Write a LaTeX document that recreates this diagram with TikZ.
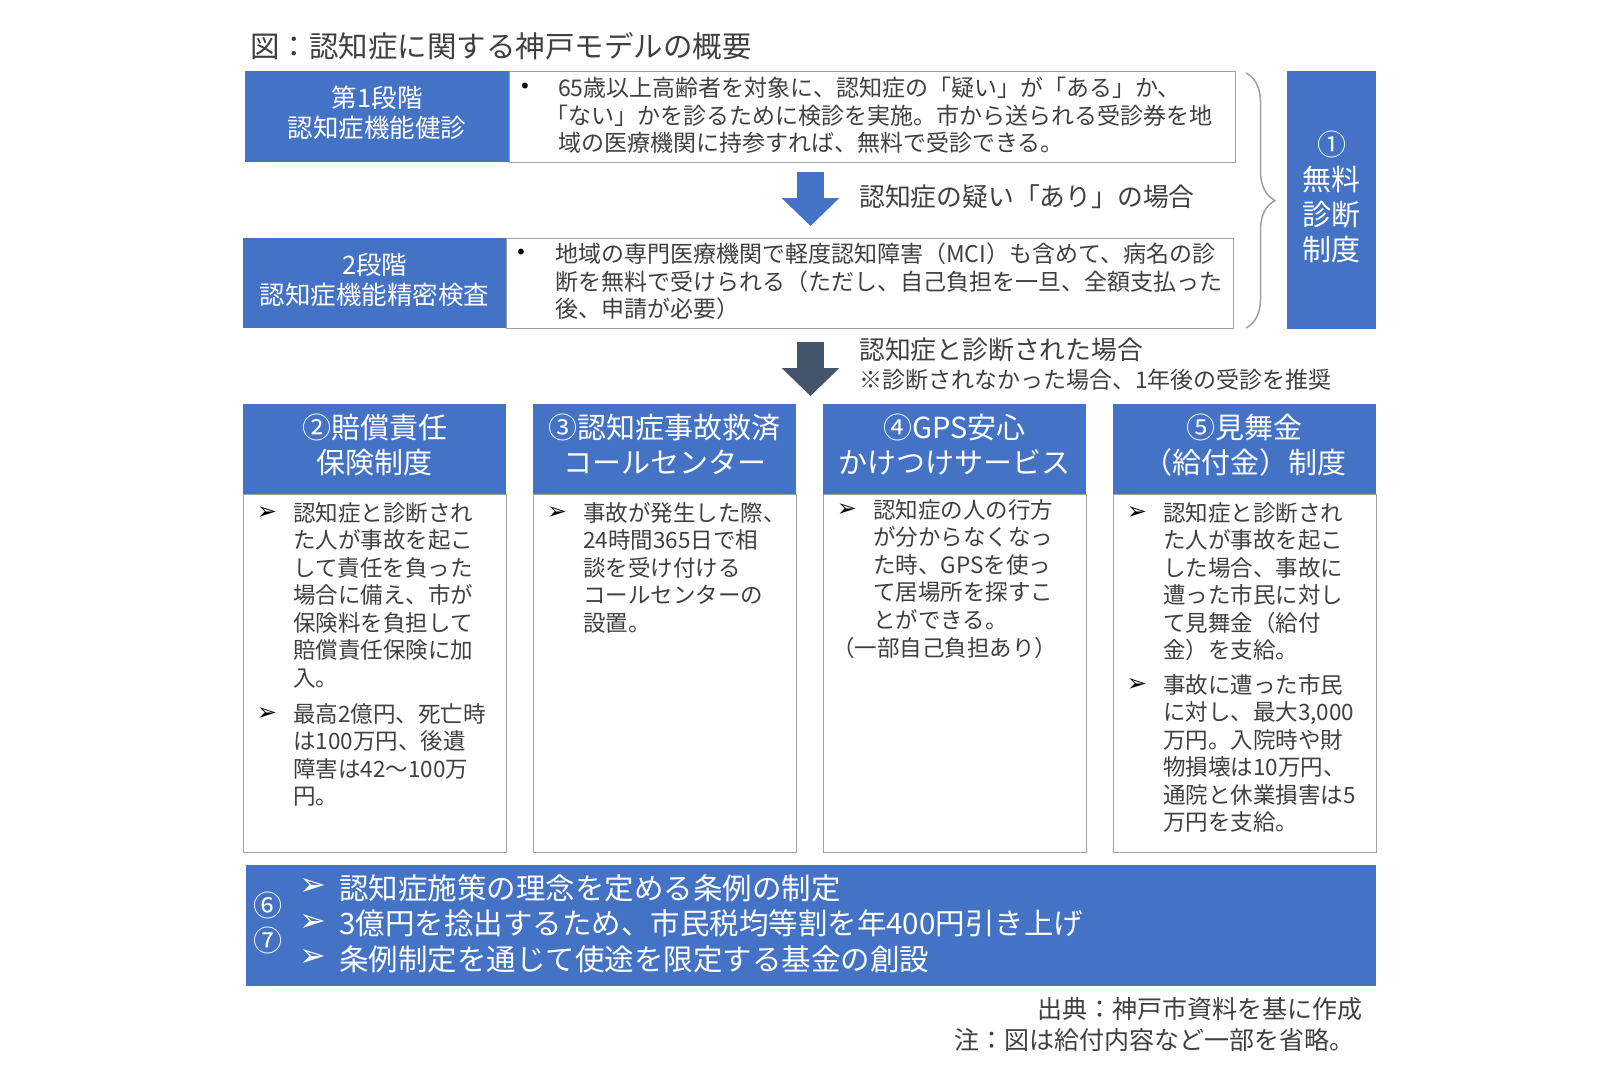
\documentclass[tikz,border=0pt]{standalone}
\usepackage{fontspec}
\setmainfont{Noto Sans CJK JP}
\newfontfamily\bulletfont{DejaVu Sans}
\usepackage{xcolor}
\usetikzlibrary{arrows.meta}
\usetikzlibrary{decorations.pathreplacing}
\definecolor{hdblue}{RGB}{68,114,196}
\definecolor{slate}{RGB}{68,84,106}
\definecolor{ink}{RGB}{64,64,64}
\definecolor{frame}{RGB}{160,160,160}

\begin{document}
\begin{tikzpicture}[x=1pt,y=-1pt,
  every node/.style={inner sep=0pt,text=ink},
  bluebox/.style={fill=hdblue,text=white,align=center,anchor=north west},
  whitebox/.style={draw=frame,line width=1.2pt,fill=white,anchor=north west},
  stagefont/.style={font=\fontsize{25.5}{30}\selectfont},
  headfont/.style={font=\fontsize{29}{35}\selectfont},
  boxtext/.style={anchor=north west,align=left,font=\fontsize{22.5}{27.5}\selectfont},
  pointer/.style={font=\bulletfont\fontsize{24}{24}\selectfont,text=black},
  whitepointer/.style={font=\bulletfont\fontsize{32}{32}\selectfont,text=white},
  dotmark/.style={font=\bulletfont\fontsize{20}{20}\selectfont,text=black},
  downarrow/.style={draw=#1,line width=27pt,-{Triangle[length=28pt,width=56pt]}}]
\useasboundingbox[fill=white] (0,0) rectangle (1597,1082);

\node[anchor=base west,font=\fontsize{29.5}{35}\selectfont] (title) at (250,57) {図：認知症に関する神戸モデルの概要};

\node[whitebox,minimum width=726pt,minimum height=91pt] (w1) at (509,71) {};
\node[bluebox,stagefont,text depth=9pt,minimum width=264pt,minimum height=91pt] (s1) at (245,71) {第1段階\\認知症機能健診};
\node[dotmark] (dot1) at (525,88) {•};
\node[boxtext,font=\fontsize{23}{27.5}\selectfont] (t1) at (558,77) {65歳以上高齢者を対象に、認知症の「疑い」が「ある」か、\\\kern-0.55em「ない」かを診るために検診を実施。市から送られる受診券を地\\域の医療機関に持参すれば、無料で受診できる。};

\coordinate (a1top) at (810.5,172);
\coordinate (a1tip) at (810.5,226);
\draw[downarrow=hdblue] (a1top) -- (a1tip);
\node[anchor=base west,font=\fontsize{25.8}{30}\selectfont] (q1) at (859,206) {認知症の疑い「あり」の場合};

\node[whitebox,minimum width=727pt,minimum height=90pt] (w2) at (506,238) {};
\node[bluebox,stagefont,text depth=9pt,minimum width=263pt,minimum height=90pt] (s2) at (243,238) {2段階\\認知症機能精密検査};
\node[dotmark] (dot2) at (521,254) {•};
\node[boxtext,font=\fontsize{23}{27.5}\selectfont] (t2) at (555,243) {地域の専門医療機関で軽度認知障害（MCI）も含めて、病名の診\\断を無料で受けられる（ただし、自己負担を一旦、全額支払った\\後、申請が必要）};

\draw[frame,line width=1.5pt,decorate,decoration={brace,amplitude=29pt}] (1246,73) -- (1246,328);
\node[bluebox,headfont,text depth=9.5pt,minimum width=89pt,minimum height=258pt] (free) at (1287,71) {①\\無料\\診断\\制度};

\coordinate (a2top) at (810.5,342);
\coordinate (a2tip) at (810.5,396);
\draw[downarrow=slate] (a2top) -- (a2tip);
\node[anchor=base west,font=\fontsize{25.8}{30}\selectfont] (q2) at (859,359) {認知症と診断された場合};
\node[anchor=base west,font=\fontsize{23}{27}\selectfont] (q3) at (859,388) {※診断されなかった場合、1年後の受診を推奨};

\node[whitebox,minimum width=263pt,minimum height=358pt] (b1) at (243,494) {};
\node[bluebox,headfont,text depth=11pt,minimum width=263pt,minimum height=90pt] (h1) at (243,404) {②賠償責任\\保険制度};
\node[pointer] (p1a) at (267,513) {➢};
\node[boxtext] (t1a) at (293,502) {認知症と診断され\\た人が事故を起こ\\して責任を負った\\場合に備え、市が\\保険料を負担して\\賠償責任保険に加\\入。};
\node[pointer] (p1b) at (267,714) {➢};
\node[boxtext] (t1b) at (293,703) {最高2億円、死亡時\\は100万円、後遺\\障害は42～100万\\円。};

\node[whitebox,minimum width=263pt,minimum height=358pt] (b2) at (533,494) {};
\node[bluebox,headfont,text depth=11pt,minimum width=263pt,minimum height=90pt] (h2) at (533,404) {③認知症事故救済\\コールセンター};
\node[pointer] (p2a) at (557,513) {➢};
\node[boxtext] (t2a) at (583,502) {事故が発生した際、\\24時間365日で相\\談を受け付ける\\コールセンターの\\設置。};

\node[whitebox,minimum width=263pt,minimum height=358pt] (b3) at (823,494) {};
\node[bluebox,headfont,text depth=11pt,minimum width=263pt,minimum height=90pt] (h3) at (823,404) {④GPS安心\\かけつけサービス};
\node[pointer] (p3a) at (847,510) {➢};
\node[boxtext] (t3a) at (873,499) {認知症の人の行方\\が分からなくなっ\\た時、GPSを使っ\\て居場所を探すこ\\とができる。};
\node[boxtext] (t3b) at (832,637) {（一部自己負担あり）};

\node[whitebox,minimum width=263pt,minimum height=358pt] (b4) at (1113,494) {};
\node[bluebox,headfont,text depth=11pt,minimum width=263pt,minimum height=90pt] (h4) at (1113,404) {⑤見舞金\\（給付金）制度};
\node[pointer] (p4a) at (1137,513) {➢};
\node[boxtext] (t4a) at (1163,502) {認知症と診断され\\た人が事故を起こ\\した場合、事故に\\遭った市民に対し\\て見舞金（給付\\金）を支給。};
\node[pointer] (p4b) at (1137,685) {➢};
\node[boxtext] (t4b) at (1163,674) {事故に遭った市民\\に対し、最大3,000\\万円。入院時や財\\物損壊は10万円、\\通院と休業損害は5\\万円を支給。};

\node[bluebox,minimum width=1130pt,minimum height=121pt] (band) at (246,865) {};
\node[text=white,font=\fontsize{29}{29}\selectfont] (n6) at (268,905) {⑥};
\node[text=white,font=\fontsize{29}{29}\selectfont] (n7) at (268,940) {⑦};
\node[whitepointer] (pb1) at (313,887) {➢};
\node[whitepointer] (pb2) at (313,923) {➢};
\node[whitepointer] (pb3) at (313,958) {➢};
\node[anchor=north west,align=left,text=white,font=\fontsize{29.5}{35.5}\selectfont] (bt) at (339,874) {認知症施策の理念を定める条例の制定\\3億円を捻出するため、市民税均等割を年400円引き上げ\\条例制定を通じて使途を限定する基金の創設};

\node[anchor=base east,font=\fontsize{25}{30}\selectfont] (src) at (1363,1018) {出典：神戸市資料を基に作成};
\node[anchor=base east,font=\fontsize{25}{30}\selectfont] (note) at (1355,1049) {注：図は給付内容など一部を省略。};
\end{tikzpicture}
\end{document}
